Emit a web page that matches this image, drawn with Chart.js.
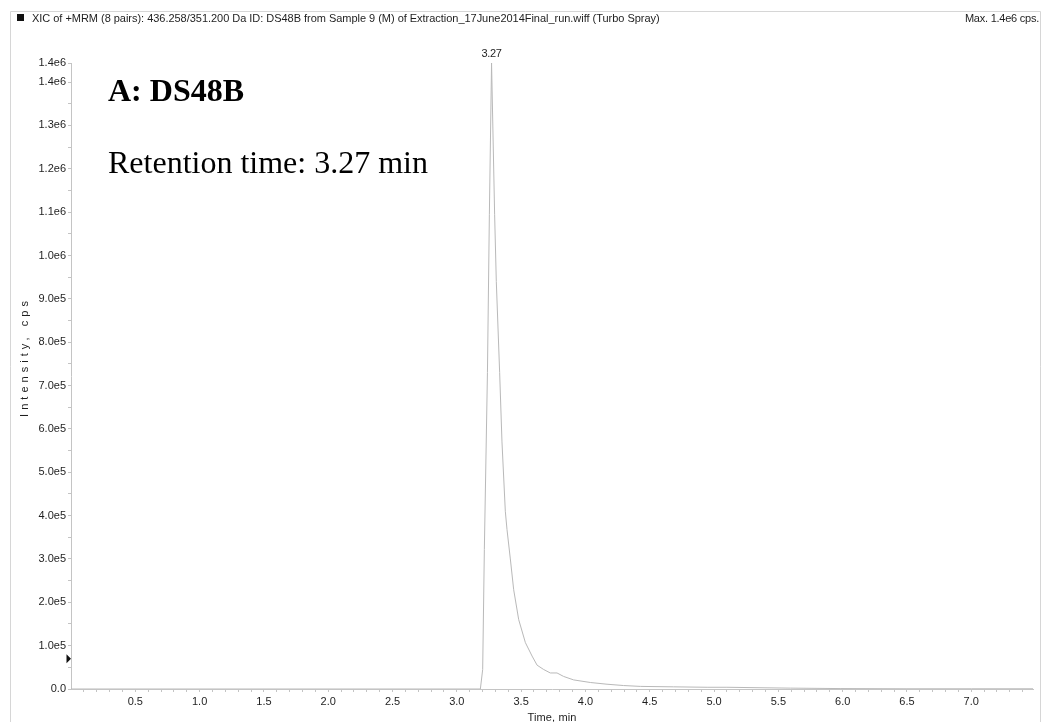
<!DOCTYPE html>
<html>
<head>
<meta charset="utf-8">
<script src="https://cdn.jsdelivr.net/npm/chart.js@4/dist/chart.umd.min.js"></script>
<style>
  html, body { margin: 0; padding: 0; background: #ffffff; }
  #wrap { width: 1043px; height: 722px; position: relative; overflow: hidden; }
</style>
</head>
<body>
<div id="wrap"><canvas id="xic" width="1043" height="722"></canvas></div>
<script>
// XIC trace: 436.258/351.200 Da, DS48B
const timeMin = [
  0.00, 3.183, 3.201, 3.214, 3.238, 3.253, 3.270, 3.294, 3.307, 3.333,
  3.351, 3.377, 3.390, 3.416, 3.442, 3.481, 3.533, 3.585, 3.624, 3.675,
  3.727, 3.779, 3.830, 3.908, 4.038, 4.168, 4.297, 4.427, 4.686, 4.946,
  5.100, 5.334, 5.593, 5.980, 6.500, 7.000, 7.480
];
const intensity = [
  0, 0, 45000, 322000, 730000, 1094000, 1444000, 1094000, 940000, 730000,
  570000, 410000, 368000, 300000, 229000, 160000, 107000, 76000, 55000, 45000,
  37000, 37000, 29000, 21000, 15000, 11000, 8000, 6000, 5000, 4000,
  4000, 3000, 2000, 1000, 500, 500, 500
];

// axis ticks
const yTickValues = [0, 1e5, 2e5, 3e5, 4e5, 5e5, 6e5, 7e5, 8e5, 9e5, 1e6, 1.1e6, 1.2e6, 1.3e6, 1.4e6, 1.444e6];
const yTickLabels = ['0.0', '1.0e5', '2.0e5', '3.0e5', '4.0e5', '5.0e5', '6.0e5', '7.0e5', '8.0e5', '9.0e5',
                     '1.0e6', '1.1e6', '1.2e6', '1.3e6', '1.4e6', '1.4e6'];
const xTickValues = [0.5, 1.0, 1.5, 2.0, 2.5, 3.0, 3.5, 4.0, 4.5, 5.0, 5.5, 6.0, 6.5, 7.0];
const xTickLabels = ['0.5', '1.0', '1.5', '2.0', '2.5', '3.0', '3.5', '4.0', '4.5', '5.0', '5.5', '6.0', '6.5', '7.0'];

const thresholdIntensity = 70000;
const headerText = 'XIC of +MRM (8 pairs): 436.258/351.200 Da ID: DS48B from Sample 9 (M) of Extraction_17June2014Final_run.wiff (Turbo Spray)';
const maxText = 'Max. 1.4e6 cps.';
const compoundText = 'A: DS48B';

const SANS = '"Liberation Sans", Arial, Helvetica, sans-serif';
const SERIF = '"Liberation Serif", "Times New Roman", serif';
const AXIS_GREY = '#c4c4c4';
const TEXT = '#1e1e1e';

const peakIndex = intensity.indexOf(Math.max(...intensity));
const peakTime = timeMin[peakIndex];

function spacedText(ctx, text, x, y, targetWidth, align) {
  ctx.letterSpacing = '0px';
  const w = ctx.measureText(text).width;
  const sp = (targetWidth - w) / text.length;
  ctx.letterSpacing = sp.toFixed(2) + 'px';
  ctx.textAlign = align;
  ctx.fillText(text, x, y);
  ctx.letterSpacing = '0px';
}

const decorations = {
  id: 'decorations',
  beforeDraw(chart) {
    const ctx = chart.ctx;
    ctx.save();
    ctx.fillStyle = '#ffffff';
    ctx.fillRect(0, 0, chart.width, chart.height);
    // outer frame
    ctx.strokeStyle = '#d6d6d6';
    ctx.lineWidth = 1;
    ctx.beginPath();
    ctx.moveTo(10.5, 722);
    ctx.lineTo(10.5, 11.5);
    ctx.lineTo(1040.5, 11.5);
    ctx.lineTo(1040.5, 722);
    ctx.stroke();
    ctx.restore();
  },
  afterDraw(chart) {
    const ctx = chart.ctx;
    const xs = chart.scales.x, ys = chart.scales.y;
    ctx.save();
    ctx.fillStyle = TEXT;
    ctx.textBaseline = 'alphabetic';

    // header line
    ctx.fillStyle = '#111';
    ctx.fillRect(17, 14, 7, 7);
    ctx.fillStyle = TEXT;
    ctx.font = '11px ' + SANS;
    spacedText(ctx, headerText, 32, 22, 628, 'left');
    spacedText(ctx, maxText, 1039, 22, 74, 'right');

    // peak apex label
    ctx.font = '11px ' + SANS;
    spacedText(ctx, peakTime.toFixed(2), xs.getPixelForValue(peakTime), 57, 20, 'center');

    // axis titles
    ctx.font = '11px ' + SANS;
    spacedText(ctx, 'Time, min', (xs.left + xs.right) / 2, 721, 49, 'center');
    ctx.save();
    ctx.translate(28, 357);
    ctx.rotate(-Math.PI / 2);
    spacedText(ctx, 'Intensity, cps', 0, 0, 120, 'center');
    ctx.restore();

    // threshold marker on the intensity axis
    const ty = ys.getPixelForValue(thresholdIntensity);
    ctx.fillStyle = '#111';
    ctx.beginPath();
    ctx.moveTo(66.5, ty - 4.5);
    ctx.lineTo(71, ty);
    ctx.lineTo(66.5, ty + 4.5);
    ctx.closePath();
    ctx.fill();

    // annotations
    ctx.fillStyle = '#000';
    ctx.textAlign = 'left';
    ctx.font = 'bold 32px ' + SERIF;
    ctx.fillText(compoundText, 108, 101);
    ctx.font = '32px ' + SERIF;
    ctx.fillText('Retention time: ' + peakTime.toFixed(2) + ' min', 108, 173);
    ctx.restore();
  }
};

new Chart(document.getElementById('xic'), {
  type: 'line',
  data: {
    datasets: [{
      data: timeMin.map((t, i) => ({ x: t, y: intensity[i] })),
      borderColor: '#b9b9b9',
      borderWidth: 1,
      pointRadius: 0,
      tension: 0,
      fill: false
    }]
  },
  options: {
    responsive: false,
    animation: false,
    devicePixelRatio: 1,
    layout: { padding: { top: 63, right: 10, bottom: 0, left: 0 } },
    plugins: { legend: { display: false }, tooltip: { enabled: false }, title: { display: false } },
    scales: {
      x: {
        type: 'linear',
        min: 0,
        max: 7.48,
        afterBuildTicks(scale) {
          const ticks = [];
          for (let i = 1; i <= 74; i++) ticks.push({ value: i / 10 });
          scale.ticks = ticks;
        },
        afterFit(scale) { scale.height = 33; },
        ticks: {
          autoSkip: false,
          maxRotation: 0,
          padding: 3,
          color: TEXT,
          font: { family: SANS, size: 11 },
          callback(v) {
            const k = xTickValues.findIndex(t => Math.abs(t - v) < 1e-6);
            return k >= 0 ? xTickLabels[k] : '';
          }
        },
        grid: { drawOnChartArea: false, drawTicks: true, tickLength: 3, tickColor: AXIS_GREY },
        border: { display: true, color: AXIS_GREY, width: 1 }
      },
      y: {
        type: 'linear',
        min: 0,
        max: 1.444e6,
        afterBuildTicks(scale) {
          const ticks = [];
          for (let i = 0; i < yTickValues.length; i++) {
            ticks.push({ value: yTickValues[i] });
            if (i < 14) ticks.push({ value: yTickValues[i] + 5e4 });
          }
          scale.ticks = ticks;
        },
        afterFit(scale) { scale.width = 71; },
        ticks: {
          autoSkip: false,
          padding: 2,
          color: TEXT,
          font: { family: SANS, size: 11 },
          callback(v) {
            const k = yTickValues.findIndex(t => Math.abs(t - v) < 1);
            return k >= 0 ? yTickLabels[k] : '';
          }
        },
        grid: { drawOnChartArea: false, drawTicks: true, tickLength: 3, tickColor: AXIS_GREY },
        border: { display: true, color: AXIS_GREY, width: 1 }
      }
    }
  },
  plugins: [decorations]
});
</script>
</body>
</html>
